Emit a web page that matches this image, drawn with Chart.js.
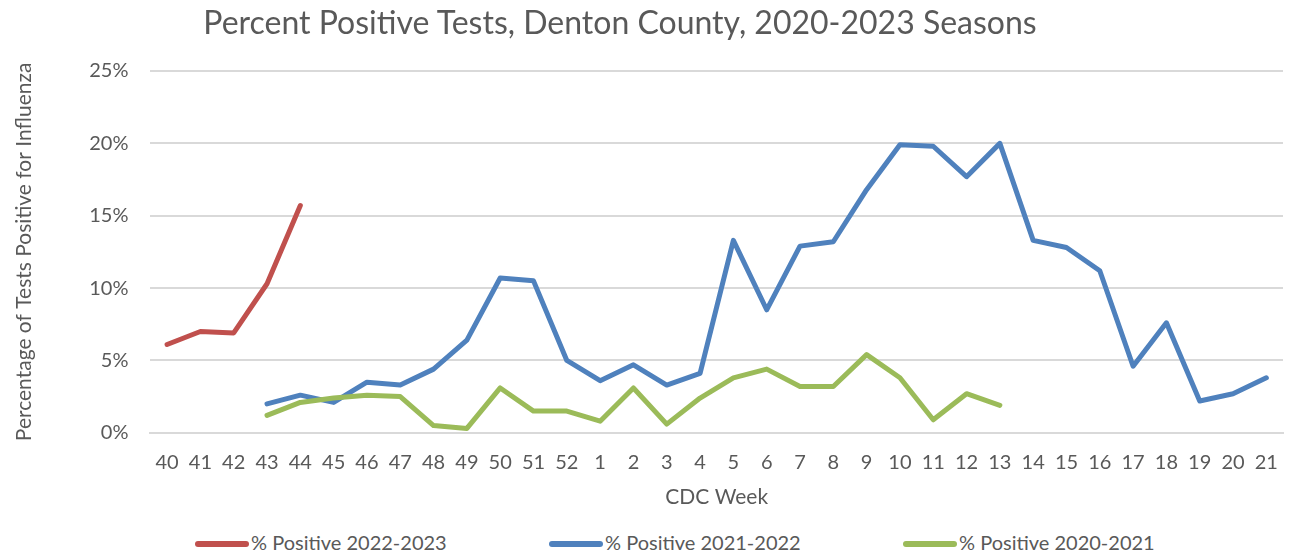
<!DOCTYPE html>
<html>
<head>
<meta charset="utf-8">
<script src="https://cdn.jsdelivr.net/npm/chart.js@4"></script>
<style>
  html, body { margin: 0; padding: 0; background: #fff; }
  #title { position: absolute; top: 3px; left: 0; width: 1240px; text-align: center; font-family: Lato, sans-serif; font-size: 32px; color: #595959; line-height: 38px; white-space: nowrap; }
  #wrap { position: relative; width: 1292px; height: 512px; }
  #legend { position: absolute; top: 529px; left: 0; width: 1292px; height: 26px; font-family: Lato, sans-serif; font-size: 20px; color: #595959; }
  .item { position: absolute; top: 0; height: 26px; line-height: 26px; white-space: nowrap; }
  .swatch { display: inline-block; width: 54px; height: 6px; border-radius: 3px; vertical-align: middle; margin-right: 2px; position: relative; top: -1px; }
</style>
</head>
<body>
<div id="wrap"><canvas id="flu"></canvas></div>
<div id="title">Percent Positive Tests, Denton County, 2020-2023 Seasons</div>
<div id="legend"></div>
<script>
const weeks = ['40','41','42','43','44','45','46','47','48','49','50','51','52',
    '1','2','3','4','5','6','7','8','9','10','11','12','13','14','15','16','17','18','19','20','21'];

const season2223 = [6.1, 7.0, 6.9, 10.3, 15.7];
const season2122 = [null, null, null, 2.0, 2.6, 2.1, 3.5, 3.3, 4.4, 6.4, 10.7, 10.5, 5.0,
    3.6, 4.7, 3.3, 4.1, 13.3, 8.5, 12.9, 13.2, 16.8, 19.9, 19.8, 17.7, 20.0,
    13.3, 12.8, 11.2, 4.6, 7.6, 2.2, 2.7, 3.8];
const season2021 = [null, null, null, 1.2, 2.1, 2.4, 2.6, 2.5, 0.5, 0.3, 3.1, 1.5, 1.5,
    0.8, 3.1, 0.6, 2.4, 3.8, 4.4, 3.2, 3.2, 5.4, 3.8, 0.9, 2.7, 1.9];

const yTicks = [0, 5, 10, 15, 20, 25];

const seriesNames = ['% Positive 2022-2023', '% Positive 2021-2022', '% Positive 2020-2021'];
const seriesColors = ['#c0504d', '#4f81bd', '#9bbb59'];

const font = 'Lato, sans-serif';

const ctx = document.getElementById('flu');
const chart = new Chart(ctx, {
    type: 'line',
    data: {
        labels: weeks,
        datasets: [
            { label: seriesNames[0], data: season2223, borderColor: seriesColors[0], order: 3 },
            { label: seriesNames[1], data: season2122, borderColor: seriesColors[1], order: 2 },
            { label: seriesNames[2], data: season2021, borderColor: seriesColors[2], order: 1 }
        ]
    },
    options: {
        responsive: true,
        maintainAspectRatio: false,
        animation: false,
        layout: { padding: { left: 8, right: 9, top: 71, bottom: 0 } },
        elements: {
            point: { radius: 0 },
            line: { borderWidth: 5, tension: 0, borderCapStyle: 'round', borderJoinStyle: 'round' }
        },
        plugins: {
            legend: { display: false },
            tooltip: { enabled: false }
        },
        scales: {
            x: {
                offset: true,
                grid: { display: false },
                border: { color: '#d9d9d9', width: 2 },
                ticks: { color: '#595959', font: { family: font, size: 20 }, maxRotation: 0, autoSkip: false, padding: 10 },
                title: { display: true, text: 'CDC Week', color: '#595959', font: { family: font, size: 21 }, padding: { top: 0, bottom: 2 } }
            },
            y: {
                min: 0,
                max: 25,
                afterBuildTicks: axis => { axis.ticks = yTicks.map(v => ({ value: v })); },
                grid: { color: '#d9d9d9', lineWidth: 2, drawTicks: false },
                border: { display: false },
                ticks: { color: '#595959', font: { family: font, size: 20 }, padding: 22, callback: v => v + '%' },
                title: { display: true, text: 'Percentage of Tests Positive for Influenza', color: '#595959', font: { family: font, size: 21 }, padding: { bottom: 30 } }
            }
        }
    }
});

// legend drawn as html, spaced like the original
const legendLeft = [195, 549, 903];
const legendBox = document.getElementById('legend');
seriesNames.forEach((name, i) => {
    const item = document.createElement('div');
    item.className = 'item';
    item.style.left = legendLeft[i] + 'px';
    const sw = document.createElement('span');
    sw.className = 'swatch';
    sw.style.background = seriesColors[i];
    item.appendChild(sw);
    item.appendChild(document.createTextNode(name));
    legendBox.appendChild(item);
});
</script>
</body>
</html>
